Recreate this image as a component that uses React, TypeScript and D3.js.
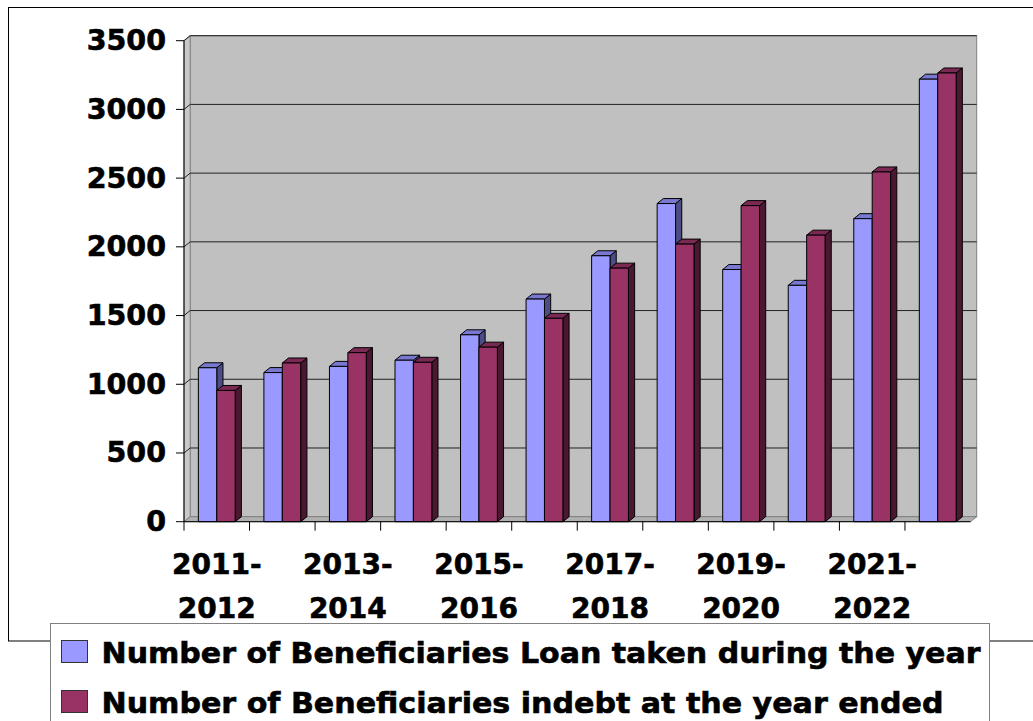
import React from 'react';
import * as d3 from 'd3';

const categories = [
  '2011-2012', '2012-2013', '2013-2014', '2014-2015', '2015-2016', '2016-2017',
  '2017-2018', '2018-2019', '2019-2020', '2020-2021', '2021-2022', '2022-2023'
];
const loanTaken = [1120, 1085, 1130, 1175, 1360, 1620, 1935, 2315, 1835, 1720, 2205, 3220];
const inDebt = [955, 1155, 1230, 1160, 1270, 1480, 1845, 2020, 2300, 2085, 2545, 3265];
const seriesNames = [
  'Number of Beneficiaries Loan taken during the year',
  'Number of Beneficiaries indebt at the year ended'
];
const yTicks = [0, 500, 1000, 1500, 2000, 2500, 3000, 3500];

const W = 1033;
const H = 721;
const FONT = '"DejaVu Sans", Verdana, sans-serif';

// 3D depth offset for wall & bars
const DX = 6.2;
const DY = -5;

const palette = [
  { front: '#9999ff', top: '#7878d0', side: '#4d4d85' },
  { front: '#993366', top: '#7a2952', side: '#4a1830' }
];
// legend text widths
const legendWidths = [879, 842];

export default function App() {
  const left = 184;
  const right = 970.5;
  const bottom = 521.7;
  const top = 40.7;

  const x = d3.scaleBand<string>().domain(categories).range([left, right]).paddingInner(0);
  const xSub = d3.scaleBand<number>().domain([0, 1]).range([0, x.bandwidth()]).paddingInner(0).paddingOuter(0.78);
  const y = d3.scaleLinear().domain([0, 3500]).range([bottom, top]);

  const series = [loanTaken, inDebt];

  const pts = (arr: [number, number][]) => arr.map(p => p.join(',')).join(' ');

  const bars: React.ReactNode[] = [];
  categories.forEach((c, i) => {
    series.forEach((vals, s) => {
      const x0 = (x(c) ?? 0) + (xSub(s) ?? 0);
      const w = xSub.bandwidth();
      const yt = y(vals[i]);
      const yb = y(0);
      const col = palette[s];
      bars.push(
        <g key={`${i}-${s}`} stroke="#000" strokeWidth={1} strokeLinejoin="round">
          <polygon
            points={pts([[x0 + w, yt], [x0 + w + DX, yt + DY], [x0 + w + DX, yb + DY], [x0 + w, yb]])}
            fill={col.side}
          />
          <polygon
            points={pts([[x0, yt], [x0 + DX, yt + DY], [x0 + w + DX, yt + DY], [x0 + w, yt]])}
            fill={col.top}
          />
          <rect x={x0} y={yt} width={w} height={yb - yt} fill={col.front} />
        </g>
      );
    });
  });

  const textStyle = { fontWeight: 'bold' as const, fill: '#000', stroke: '#000', strokeWidth: 0.6 };

  return (
    <svg
      width={W}
      height={H}
      style={{ position: 'absolute', left: 0, top: 0, background: '#fff' }}
      fontFamily={FONT}
    >
      {/* chart outer border */}
      <rect x={8.5} y={7.5} width={1040} height={633.5} fill="#fff" stroke="#000" strokeWidth={1} />

      {/* back wall */}
      <rect x={left + DX} y={top + DY} width={right - left} height={bottom - top} fill="#c0c0c0" stroke="#808080" />
      {/* side wall */}
      <polygon
        points={pts([[left, top], [left + DX, top + DY], [left + DX, bottom + DY], [left, bottom]])}
        fill="#c8c8c8"
        stroke="#808080"
      />
      {/* floor */}
      <polygon
        points={pts([[left, bottom], [left + DX, bottom + DY], [right + DX, bottom + DY], [right, bottom]])}
        fill="#b0b0b0"
        stroke="#808080"
      />

      {/* gridlines */}
      {yTicks.slice(1).map(t => (
        <g key={t} stroke="#222" strokeWidth={1} fill="none">
          <line x1={left + DX} x2={right + DX} y1={y(t) + DY} y2={y(t) + DY} />
          <line x1={left} x2={left + DX} y1={y(t)} y2={y(t) + DY} />
        </g>
      ))}

      {bars}

      {/* y axis */}
      <line x1={left} x2={left} y1={top} y2={bottom} stroke="#000" />
      {yTicks.map(t => (
        <g key={t}>
          <line x1={left - 8} x2={left} y1={y(t)} y2={y(t)} stroke="#000" />
          <text
            x={166}
            y={y(t)}
            textAnchor="end"
            dominantBaseline="central"
            fontSize={28.5}
            style={textStyle}
          >
            {t}
          </text>
        </g>
      ))}

      {/* x axis */}
      <line x1={left} x2={right} y1={bottom} y2={bottom} stroke="#000" />
      {categories.map(c => (
        <line key={c} x1={x(c)} x2={x(c)} y1={bottom} y2={bottom + 9} stroke="#000" />
      ))}
      {categories.map((c, i) => {
        if (i % 2 !== 0) return null;
        const [a, b] = c.split('-');
        const cx = (x(c) ?? 0) + x.bandwidth() / 2;
        return (
          <text key={c} x={cx} textAnchor="middle" fontSize={28} style={textStyle}>
            <tspan x={cx} y={574}>{a + '-'}</tspan>
            <tspan x={cx} y={618}>{b}</tspan>
          </text>
        );
      })}

      {/* legend */}
      <rect x={50.5} y={623.5} width={939} height={120} fill="#fff" stroke="#808080" />
      {seriesNames.map((name, s) => (
        <g key={name} transform={`translate(0, ${s * 50})`}>
          <rect x={61.5} y={640.5} width={26} height={22} fill={palette[s].front} stroke="#333" />
          <text
            x={101.5}
            y={663}
            fontSize={28}
            textLength={legendWidths[s]}
            lengthAdjust="spacingAndGlyphs"
            style={textStyle}
          >
            {name}
          </text>
        </g>
      ))}
    </svg>
  );
}
